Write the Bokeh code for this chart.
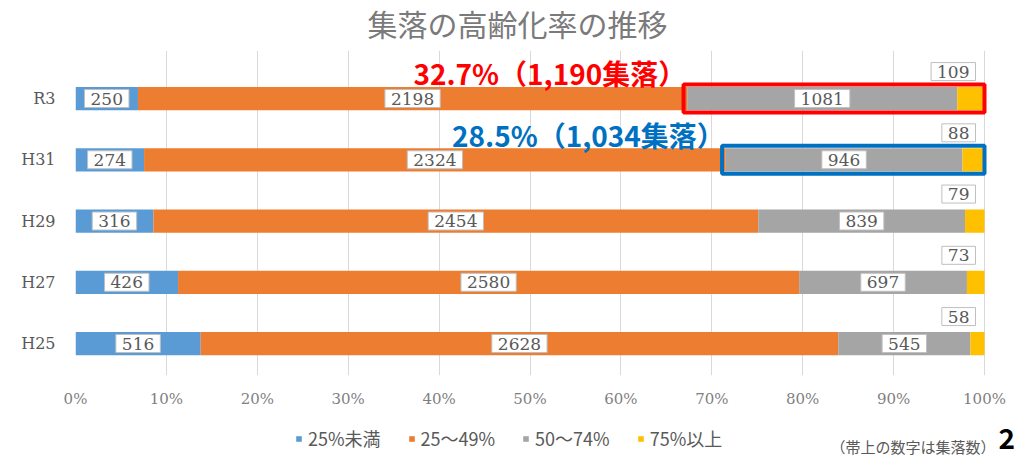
from bokeh.plotting import figure
from bokeh.models import (ColumnDataSource, Range1d, FixedTicker, NumeralTickFormatter,
                          Label, Legend, LegendItem)
from bokeh.layouts import column
from bokeh.core.properties import value
from bokeh.embed import file_html
from bokeh.resources import INLINE

# ---- data ----
years = ["H25", "H27", "H29", "H31", "R3"]
s_lt25 = [516, 426, 316, 274, 250]
s_25_49 = [2628, 2580, 2454, 2324, 2198]
s_50_74 = [545, 697, 839, 946, 1081]
s_75up = [58, 73, 79, 88, 109]
series_names = ["25%未満", "25～49%", "50～74%", "75%以上"]
colors = ["#5B9BD5", "#ED7D31", "#A5A5A5", "#FFC000"]
x_ticks = [i / 10 for i in range(11)]
highlight_text = {"R3": "32.7%（1,190集落）", "H31": "28.5%（1,034集落）"}
highlight_color = {"R3": "#FF0000", "H31": "#0070C0"}
title_text = "集落の高齢化率の推移"
note_text = "（帯上の数字は集落数）"
page_no = "2"

serif = "DejaVu Serif"
cjk = "Noto Sans CJK JP"
txt_gray = "#595959"

# ---- derived shares ----
ypos = list(range(len(years)))
series = [s_lt25, s_25_49, s_50_74, s_75up]
totals = [sum(v) for v in zip(*series)]
shares = [[v / t for v, t in zip(s, totals)] for s in series]
keys = ["a", "b", "c", "d"]
data = dict(y=ypos)
for k, sh in zip(keys, shares):
    data[k] = sh
src = ColumnDataSource(data)

# frames span 75..1019 px; 100% sits at 984 px
xr = Range1d(0, 944 / 909)

# ---- title strip ----
t = figure(title=None, width=1019, height=50, output_backend="svg", toolbar_location=None,
           x_range=xr, y_range=Range1d(0, 50),
           min_border_left=75, min_border_right=0, min_border_top=0, min_border_bottom=0,
           background_fill_color="white", border_fill_color="white",
           outline_line_color=None, x_axis_type=None, y_axis_type=None)
t.grid.visible = False
t.add_layout(Label(x=(367 - 75) / 909, y=28, text=title_text, text_align="left",
                   text_baseline="middle", text_font=cjk, text_font_size="30px",
                   text_color="#7A7A7A"))

# ---- main chart ----
p = figure(title=None, width=1019, height=364, output_backend="svg", toolbar_location=None,
           x_range=xr, y_range=Range1d(-0.522, 4.784),
           min_border_left=75, min_border_right=0, min_border_top=0, min_border_bottom=39,
           background_fill_color="white", border_fill_color="white", outline_line_color=None)

rends = p.hbar_stack(keys, y="y", height=0.38, color=colors, source=src, line_color=None)

p.xgrid.ticker = FixedTicker(ticks=x_ticks)
p.xgrid.grid_line_color = "#D9D9D9"
p.ygrid.grid_line_color = None

p.xaxis.ticker = FixedTicker(ticks=x_ticks)
p.xaxis.formatter = NumeralTickFormatter(format="0%")
p.xaxis.axis_line_color = None
p.xaxis.major_tick_line_color = None
p.xaxis.minor_tick_line_color = None
p.xaxis.major_tick_out = 0
p.xaxis.major_tick_in = 0
p.xaxis.minor_tick_out = 0
p.xaxis.major_label_standoff = 14
p.xaxis.major_label_text_font = serif
p.xaxis.major_label_text_font_size = "15px"
p.xaxis.major_label_text_color = "#7F7F7F"

p.yaxis.ticker = FixedTicker(ticks=ypos)
p.yaxis.major_label_overrides = {i: y for i, y in zip(ypos, years)}
p.yaxis.axis_line_color = None
p.yaxis.major_tick_line_color = None
p.yaxis.minor_tick_line_color = None
p.yaxis.major_tick_out = 0
p.yaxis.major_tick_in = 0
p.yaxis.minor_tick_out = 0
p.yaxis.major_label_standoff = 20
p.yaxis.major_label_text_font = serif
p.yaxis.major_label_text_font_size = "16px"
p.yaxis.major_label_text_color = txt_gray

# data labels
lab = dict(y=[], x=[], t=[])
lab4 = dict(y=[], x=[], t=[])
for i in range(len(years)):
    cum = 0.0
    for j in range(4):
        sh = shares[j][i]
        if j < 3:
            lab["x"].append(cum + sh / 2)
            lab["y"].append(ypos[i])
            lab["t"].append(str(series[j][i]))
        else:
            lab4["x"].append(1.0)
            lab4["y"].append(ypos[i] + 0.44)
            lab4["t"].append(str(series[j][i]))
        cum += sh

common = dict(text_font=value(serif), text_font_size="17px", text_color=txt_gray,
              background_fill_color="white", border_line_color="#BFBFBF",
              text_baseline="middle", padding=(6, 3))
p.text(x="x", y="y", text="t", source=ColumnDataSource(lab), text_align="center", **common)
p.text(x="x", y="y", text="t", source=ColumnDataSource(lab4), text_align="right",
       x_offset=-9, **common)

# highlight boxes + texts
for i, yr in enumerate(years):
    if yr in highlight_text:
        x0 = shares[0][i] + shares[1][i] - 0.004
        c = highlight_color[yr]
        p.quad(left=[x0], right=[1.0], bottom=[ypos[i] - 0.23], top=[ypos[i] + 0.23],
               fill_color=None, line_color=c, line_width=4)
        p.add_layout(Label(x=x0 + 0.003, y=ypos[i] + 0.41, text=highlight_text[yr],
                           text_align="right", text_baseline="middle",
                           text_font=cjk, text_font_style="bold", text_font_size="28px",
                           text_color=c))

# ---- bottom strip: legend + note + page number ----
q = figure(width=1019, height=42, output_backend="svg", toolbar_location=None,
           x_range=xr, y_range=Range1d(0, 42),
           min_border_left=75, min_border_right=0, min_border_top=0, min_border_bottom=0,
           background_fill_color="white", border_fill_color="white",
           outline_line_color=None, x_axis_type=None, y_axis_type=None)
q.grid.visible = False
# off-screen swatch renderers (only used to draw the legend squares)
swatches = [q.hbar(y=[-1000], right=[0.1], height=1, color=c, line_color=None) for c in colors]
legend = Legend(items=[LegendItem(label=n, renderers=[r]) for n, r in zip(series_names, swatches)],
                orientation="horizontal", location=(220, 5),
                glyph_width=7, glyph_height=7, label_standoff=6, spacing=27,
                padding=0, margin=0, border_line_color=None, background_fill_alpha=0,
                label_text_font=cjk, label_text_font_size="18px",
                label_text_color=txt_gray, label_height=18)
q.add_layout(legend, "center")
q.add_layout(Label(x=(830 - 75) / 909, y=10, text=note_text, text_align="left",
                   text_baseline="middle", text_font=cjk, text_font_size="15px",
                   text_color=txt_gray))
q.add_layout(Label(x=(998 - 75) / 909, y=18, text=page_no, text_align="left",
                   text_baseline="middle", text_font=cjk, text_font_style="bold",
                   text_font_size="28px", text_color="black"))

layout = column(t, p, q, spacing=0)
open("out.html", "w").write(file_html(layout, INLINE))
